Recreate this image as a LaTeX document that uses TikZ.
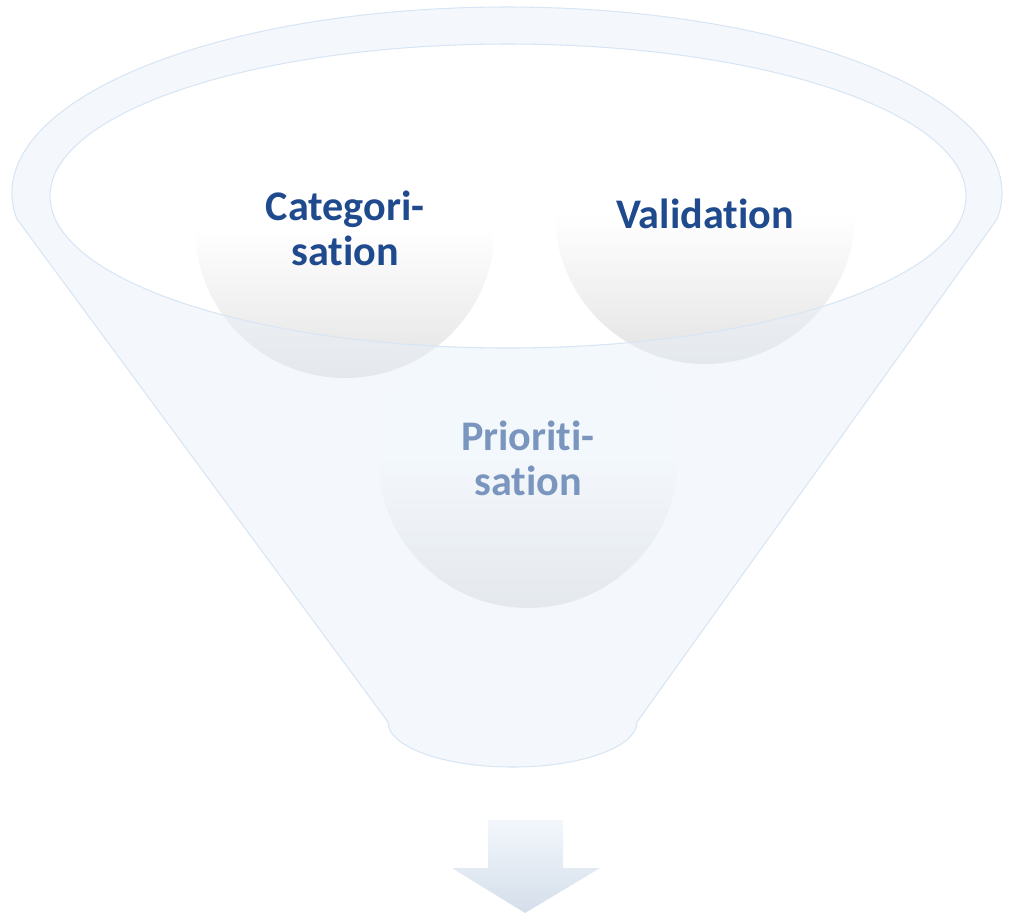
\documentclass[tikz,border=0pt]{standalone}
\usepackage{fontspec}
\setmainfont{Carlito}[RawFeature={-liga;-clig;-calt;-dlig;-rlig}]
\usetikzlibrary{positioning}
\definecolor{ink}{HTML}{1F4A8E}
\definecolor{funnelfill}{HTML}{E7F0FA}
\definecolor{funnelline}{HTML}{D8E5F4}
\definecolor{ballgrey}{HTML}{E3E3E3}
\definecolor{arrowtop}{HTML}{F3F7FC}
\definecolor{arrowbot}{HTML}{D4DEEA}
\pgfdeclareverticalshading{ballshade}{100bp}{color(0bp)=(ballgrey); color(25bp)=(ballgrey); color(50bp)=(white); color(100bp)=(white)}

\begin{document}
\begin{tikzpicture}[x=0.02cm, y=-0.02cm,
    ball/.style={circle, minimum size=6cm, inner sep=0pt, shade, shading=ballshade, align=center,
        font=\bfseries\fontsize{24}{25.6}\selectfont, text=ink},
    funnel/.style={fill=funnelfill, fill opacity=0.46, draw=funnelline, line width=0.6pt, even odd rule},
    outarrow/.style={top color=arrowtop, bottom color=arrowbot}]
    \useasboundingbox (0,0) rectangle (1013,914);
    % stages (lowest first, so the upper ones stay whole)
    \node[ball] (pri) at (528,458) {Prioriti-\\sation};
    \node[ball] (cat) at (345,228) {Categori-\\sation};
    \node[ball] (val) at (705,214) {Validation};
    % funnel body with open rim
    \draw[funnel] (507,193) ++(172:495 and 186)
        arc[start angle=172, end angle=368, x radius=495, y radius=186]
        -- (637,722) arc[start angle=0, end angle=180, x radius=124.5, y radius=45] -- cycle
        (508,196) ellipse[x radius=458, y radius=152];
    % output arrow
    \path[outarrow] (488,820) -- (563,820) -- (563,868) -- (600,868) -- (525,913)
        -- (452,868) -- (488,868) -- cycle;
\end{tikzpicture}
\end{document}
